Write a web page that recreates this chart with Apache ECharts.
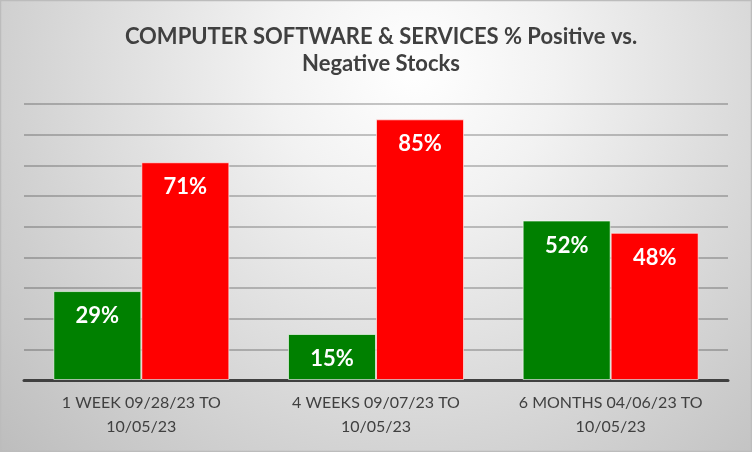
<!DOCTYPE html>
<html>
<head>
<meta charset="utf-8">
<script src="https://cdn.jsdelivr.net/npm/echarts@6/dist/echarts.min.js"></script>
<style>
  html, body { margin: 0; padding: 0; }
  #chart { width: 752px; height: 452px; }
</style>
</head>
<body>
<div id="chart"></div>
<script>
var categories = [
    "1 WEEK 09/28/23 TO\n10/05/23",
    "4 WEEKS 09/07/23 TO\n10/05/23",
    "6 MONTHS 04/06/23 TO\n10/05/23"
];
var positive = [29, 15, 52];
var negative = [71, 85, 48];
var yMax = 90;
var yStep = 10;

var labelStyle = {
    show: true,
    position: "insideTop",
    distance: 14,
    color: "#ffffff",
    fontFamily: "Lato",
    fontWeight: "bold",
    fontSize: 22,
    formatter: "{c}%"
};

var myChart = echarts.init(document.getElementById("chart"));
myChart.setOption({
    animation: false,
    backgroundColor: {
        type: "radial",
        x: 0.55, y: 0.15, r: 1.25,
        colorStops: [
            { offset: 0, color: "#ffffff" },
            { offset: 0.25, color: "#f2f2f2" },
            { offset: 1, color: "#bdbdbd" }
        ]
    },
    graphic: [{
        type: "rect",
        shape: { x: 0.5, y: 0.5, width: 751, height: 451 },
        style: { fill: "none", stroke: "#bcbcbc", lineWidth: 1.5 },
        silent: true
    }],
    title: {
        text: "COMPUTER SOFTWARE & SERVICES % Positive vs.\nNegative Stocks",
        left: 376,
        top: 18,
        textAlign: "center",
        textStyle: {
            fontFamily: "Lato",
            fontWeight: "bold",
            fontSize: 22,
            lineHeight: 27,
            color: "#404040"
        }
    },
    grid: { left: 24, right: 24, top: 104, bottom: 72 },
    xAxis: {
        type: "category",
        data: categories,
        axisTick: { show: false },
        axisLine: { lineStyle: { color: "#404040", width: 3 } },
        axisLabel: {
            interval: 0,
            margin: 11,
            color: "#404040",
            fontFamily: "Lato",
            fontSize: 16,
            lineHeight: 24
        }
    },
    yAxis: {
        type: "value",
        min: 0,
        max: yMax,
        interval: yStep,
        axisLabel: { show: false },
        axisLine: { show: false },
        axisTick: { show: false },
        splitLine: { lineStyle: { color: "rgba(0,0,0,0.22)", width: 2 } }
    },
    series: [
        {
            name: "Positive",
            type: "bar",
            data: positive,
            barWidth: 88,
            barGap: "0%",
            itemStyle: { color: "#008000", borderColor: "rgba(255,255,255,0.6)", borderWidth: 1 },
            label: labelStyle
        },
        {
            name: "Negative",
            type: "bar",
            data: negative,
            barWidth: 88,
            itemStyle: { color: "#ff0000", borderColor: "rgba(255,255,255,0.6)", borderWidth: 1 },
            label: labelStyle
        }
    ]
});
</script>
</body>
</html>
